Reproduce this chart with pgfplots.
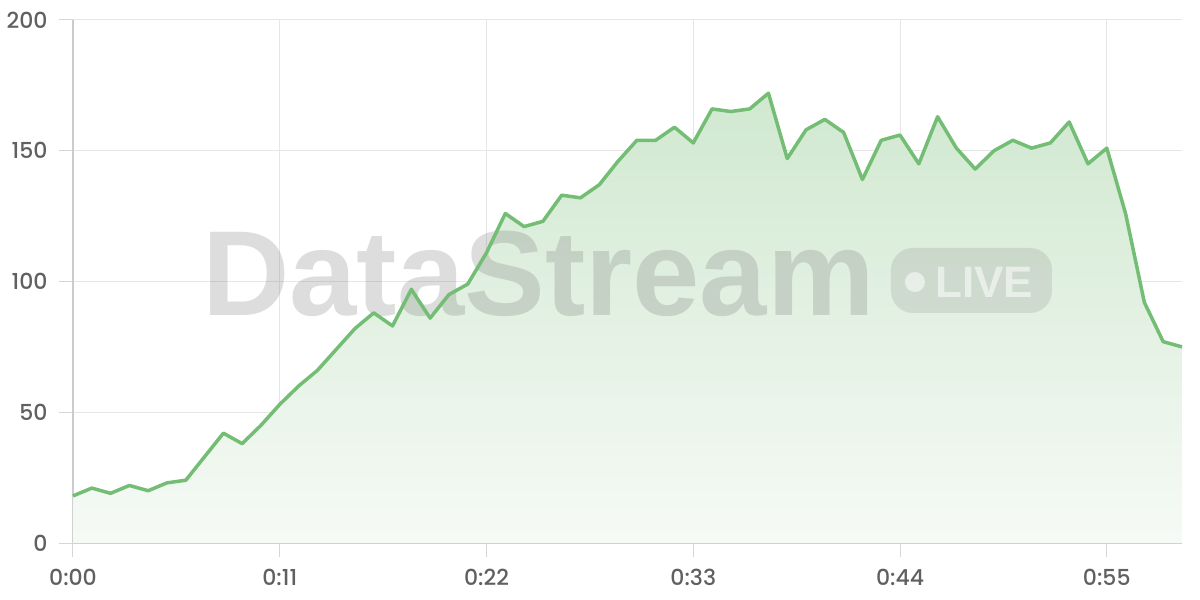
\documentclass[border=0pt]{standalone}
\usepackage{pgfplots}
\pgfplotsset{compat=1.18}
\usepackage{pgfplotstable}
\usepackage{fontspec}
\setmainfont{Poppins}
\newfontfamily\labfont{Poppins Medium}
\newfontfamily\wmfont{Liberation Sans}
\definecolor{linegreen}{RGB}{116,189,116}
\definecolor{filltop}{RGB}{208,232,208}
\definecolor{fillbot}{RGB}{246,250,246}
\definecolor{gridc}{RGB}{230,230,230}
\definecolor{tickc}{RGB}{214,214,214}
\definecolor{axisc}{RGB}{204,204,204}
\definecolor{labc}{RGB}{96,96,96}
\definecolor{wmgray}{RGB}{120,120,120}

\pgfplotstableread{
x y
0 18
1 21
2 19
3 22
4 20
5 23
6 24
7 33
8 42
9 38
10 45
11 53
12 60
13 66
14 74
15 82
16 88
17 83
18 97
19 86
20 95
21 99
22 111
23 126
24 121
25 123
26 133
27 132
28 137
29 146
30 154
31 154
32 159
33 153
34 166
35 165
36 166
37 172
38 147
39 158
40 162
41 157
42 139
43 154
44 156
45 145
46 163
47 151
48 143
49 150
50 154
51 151
52 153
53 161
54 145
55 151
56 126
57 92
58 77
59 75
}\datatable

\begin{document}
\begin{tikzpicture}
\path[use as bounding box] (0,0) rectangle (1200pt,600pt);
\begin{axis}[
  at={(73pt,57pt)}, anchor=south west,
  scale only axis, width=1109pt, height=523pt,
  xmin=0, xmax=59, ymin=0, ymax=200,
  axis x line*=bottom, axis y line*=left,
  axis line style={draw=axisc, line width=1.5pt, -},
  xtick={0,11,22,33,44,55},
  xticklabels={0:00,0:11,0:22,0:33,0:44,0:55},
  ytick={0,50,100,150,200},
  grid=major,
  major grid style={draw=gridc, line width=1pt},
  tick align=outside,
  major tick length=14pt,
  tick style={draw=tickc, line width=1pt},
  /pgf/number format/assume math mode=true,
  ticklabel style={font=\labfont\fontsize{22}{24}\selectfont, text=labc},
  yticklabel style={xshift=-8pt},
  xticklabel style={yshift=-9pt},
  clip=false,
]
\addplot[draw=none, top color=filltop, bottom color=fillbot] table[x=x,y=y] {\datatable} \closedcycle;
\node[anchor=base west, inner sep=0pt, text=wmgray, opacity=0.25,
  font=\wmfont\bfseries\fontsize{121}{122}\selectfont]
  at (rel axis cs:0.1163,0.4359) {DataStream};
\fill[wmgray, opacity=0.18, rounded corners=22pt]
  (rel axis cs:0.7376,0.4398) rectangle (rel axis cs:0.8828,0.5641);
\fill[white, opacity=0.55] (rel axis cs:0.7592,0.4990) circle (10pt);
\node[anchor=base west, inner sep=0pt, text=white, opacity=0.55,
  font=\wmfont\bfseries\fontsize{44}{46}\selectfont]
  at (rel axis cs:0.7773,0.4685) {LIVE};
\addplot[linegreen, line width=3.5pt, line join=round, mark=none] table[x=x,y=y] {\datatable};
\end{axis}
\end{tikzpicture}
\end{document}
